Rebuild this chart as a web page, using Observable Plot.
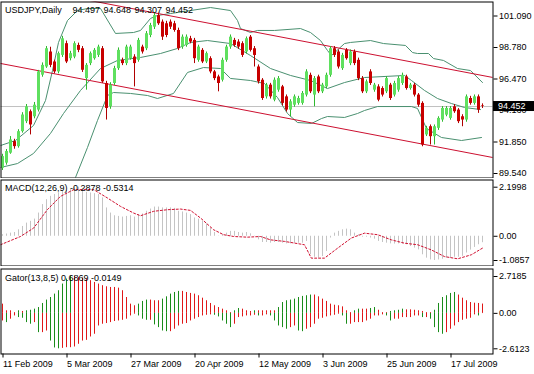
<!DOCTYPE html>
<html><head><meta charset="utf-8">
<script src="https://cdn.jsdelivr.net/npm/d3@7"></script>
<script src="https://cdn.jsdelivr.net/npm/@observablehq/plot@0.6"></script>
<style>
html,body{margin:0;padding:0;background:#fff;}
#wrap{position:relative;width:534px;height:374px;overflow:hidden;background:#fff;}
#wrap svg{position:absolute;left:0;}
</style></head><body><div id="wrap"></div>
<script>
// ---------- DATA ----------
const symbolLabel = "USDJPY,Daily";
const headerValues = ["94.497", "94.648", "94.307", "94.452"];
const lastClose = 94.452;

const open = [89.93,90.30,91.03,91.88,91.51,92.61,93.34,94.07,93.70,94.19,
96.75,97.35,98.45,97.72,96.99,98.20,99.06,97.96,98.08,98.93,
98.69,96.50,97.60,97.96,98.20,98.69,96.14,94.43,96.14,97.23,
97.84,97.60,97.96,98.08,97.84,98.81,98.69,99.66,100.27,101.12,
100.64,100.52,100.64,100.52,100.03,98.81,98.93,99.42,99.30,97.84,
98.57,97.72,97.96,96.99,96.62,96.38,97.84,98.81,99.30,99.18,
99.06,98.45,99.54,98.69,97.35,96.38,95.16,96.02,94.92,95.65,
95.89,95.16,94.19,94.55,94.68,94.68,95.29,96.74,95.29,96.62,
95.53,95.89,96.74,98.69,98.45,97.23,98.57,97.60,98.45,97.84,
96.50,95.53,96.99,95.65,95.89,95.77,95.53,96.02,95.29,95.65,
96.14,96.62,95.77,96.02,95.29,94.68,92.37,92.97,92.24,92.85,
93.46,93.82,93.58,94.43,94.19,93.70,93.46,95.04,94.68,95.16,94.497];
const close = [90.78,91.15,92.00,91.51,92.61,93.83,94.43,93.10,94.55,96.99,
97.47,98.69,97.47,96.99,98.33,99.42,97.72,98.33,99.06,98.57,
97.11,97.47,98.33,98.57,98.81,96.26,94.31,96.02,97.23,98.57,
97.60,98.81,98.81,97.60,99.30,98.45,99.79,100.39,101.12,100.52,
99.54,99.66,100.27,100.03,98.69,99.54,99.54,99.18,97.96,98.81,
97.72,98.33,96.99,96.50,96.14,97.84,98.81,99.54,98.93,98.81,
98.20,99.42,98.57,98.20,96.26,95.04,96.02,95.16,96.38,96.50,
94.68,94.19,94.80,95.16,95.04,95.41,96.99,95.53,96.50,95.53,
96.02,96.74,98.69,98.20,97.35,98.20,97.96,98.45,97.60,96.50,
95.53,96.26,96.14,96.02,94.92,95.29,96.50,95.04,96.14,96.50,
96.74,95.77,96.02,95.29,94.55,91.63,92.85,92.24,92.97,93.58,
94.31,94.31,94.31,94.07,93.34,93.46,95.16,94.68,95.16,94.19,94.452];
const high = [90.95,91.30,92.25,92.05,92.75,94.00,94.60,94.20,94.75,97.10,
97.65,98.85,98.80,97.85,98.45,99.60,99.25,98.50,99.20,99.10,
98.85,97.60,98.45,98.70,98.95,98.85,96.30,96.20,97.40,98.75,
98.00,98.95,98.95,98.25,99.45,98.95,99.95,100.55,101.30,101.30,
100.80,100.70,100.80,100.70,100.20,99.70,99.70,99.60,99.45,98.95,
98.70,98.45,98.10,97.10,96.75,98.00,98.95,99.70,99.45,99.35,
99.20,99.55,99.66,98.85,97.50,96.50,96.15,96.15,96.55,96.65,
96.00,95.30,94.95,95.30,95.20,95.55,97.15,96.90,96.65,96.75,
96.15,96.90,98.85,98.85,98.60,98.35,98.70,98.60,98.60,98.00,
96.65,96.40,97.15,96.15,96.05,95.90,96.65,96.15,96.30,96.65,
96.90,96.75,96.15,96.15,95.40,94.80,93.00,93.10,93.10,93.70,
94.45,94.45,94.45,94.60,94.30,93.85,95.30,95.20,95.30,95.30,94.648];
const low = [89.76,90.15,90.95,91.32,91.40,92.50,93.20,92.37,93.55,94.05,
96.60,97.25,97.30,96.85,96.85,98.05,97.60,97.80,97.95,98.40,
96.95,95.65,97.45,97.85,98.05,96.15,93.46,94.25,96.00,97.10,
97.45,97.45,97.85,95.89,97.70,98.30,98.55,99.50,100.10,100.40,
99.30,99.50,100.10,99.90,98.55,98.65,98.80,99.05,97.60,97.70,
97.60,97.60,96.85,96.35,95.53,96.25,97.70,98.65,98.80,98.65,
98.05,98.30,98.45,97.35,96.10,94.90,95.00,95.00,94.80,95.50,
94.50,94.05,93.70,94.40,94.55,94.55,95.15,95.40,94.43,95.40,
95.40,95.75,96.60,98.05,97.20,97.10,97.85,97.45,97.45,96.35,
95.40,95.40,96.00,95.50,94.80,95.15,95.40,94.90,95.15,95.50,
96.00,95.65,95.65,95.15,94.40,91.50,92.25,91.63,91.63,92.70,
93.30,93.70,93.45,93.95,93.20,92.97,93.30,94.55,94.55,93.95,94.307];

// Bollinger bands (bar index, price)
const bbUpperIdx = [-0.5,3.25,7.75,10.75,12.5,14,16.25,18.75,21.25,24.5,28.25,32.75,34.5,37,38.75,42,47,52,57,58.75,59.5,62,63.75,68,74.5,77,79.5,81.25,82.25,85.5,87,92,95.25,100.75,102.5,103.75,106.5,107.75,110.25,113.75,117,120];
const bbUpperVal = [91.59,91.96,93.06,94.89,97.09,99.15,100.76,101.49,101.64,101.64,99.81,99.88,100.03,100.91,101.13,101.27,101.49,101.71,101.49,100.76,100.17,99.88,100.03,100.03,100.17,99.88,99.29,98.56,98.19,99.07,99.15,99.29,99.07,98.93,98.41,98.34,98.34,97.97,97.83,97.24,97.09,96.21];
const bbMiddleIdx = [-0.5,3.75,7.75,12,15.25,19.5,24.5,28.75,34.5,39.5,43.75,47,51.25,57,62,67,72,77,81.25,85.5,90.5,100.5,102.25,105.5,108.75,112.25,115.5,119.5];
const bbMiddleVal = [89.98,90.27,91.01,92.48,93.94,95.63,97.24,97.83,98.05,98.34,98.71,99.15,99.29,99.07,98.19,97.24,96.73,96.36,95.77,96.21,96.58,96.73,96.36,95.63,95.04,94.67,94.38,94.23];
const bbLowerIdx = [17.75,21.25,23.75,26.25,27.75,32,36.25,38.75,42.75,46.25,50.25,54.5,57,62,65.5,68.75,71.25,73.75,77.25,79.75,81.25,85.5,88.75,90.5,93.75,102.25,103.75,106,109.75,114.75,119.75];
const bbLowerVal = [88.88,91.45,93.43,95.26,95.48,95.41,95.26,95.04,95.41,96.95,97.31,97.24,96.51,96.36,96.14,95.11,93.94,93.28,93.21,93.57,93.72,93.65,93.94,94.16,94.45,94.45,94.31,92.84,92.18,91.96,92.18];

// Channel (trend) lines: two anchor points each
const channelUpper = [{i: 20, p: 102.33}, {i: 122.6, p: 96.58}];
const channelLower = [{i: -0.5, p: 97.61}, {i: 122.6, p: 90.71}];

const mainTicks = [101.090, 98.780, 96.470, 94.160, 91.850, 89.540];

// MACD
const macdLabel = "MACD(12,26,9) -0.2878 -0.5314";
const macdHist = [0.07,0.10,0.14,0.17,0.29,0.44,0.59,0.67,0.77,1.04,
1.42,1.64,1.79,1.87,1.94,2.05,2.06,2.09,2.17,2.1998,
2.09,1.97,1.94,1.91,1.87,1.72,1.27,1.04,0.92,0.89,
0.86,0.89,0.92,0.86,0.97,1.00,1.12,1.22,1.31,1.31,
1.27,1.27,1.27,1.25,1.12,1.09,1.04,0.97,0.82,0.77,
0.67,0.56,0.37,0.17,-0.01,0.07,0.14,0.22,0.22,0.17,
0.14,0.17,0.11,-0.01,-0.16,-0.28,-0.28,-0.31,-0.28,-0.28,
-0.31,-0.34,-0.34,-0.31,-0.31,-0.31,-0.23,-0.83,-0.94,-0.98,
-0.91,-0.68,-0.08,0.14,0.22,0.29,0.32,0.29,0.14,0.07,
-0.04,-0.04,-0.08,-0.13,-0.23,-0.28,-0.31,-0.34,-0.35,-0.34,
-0.35,-0.38,-0.46,-0.53,-0.61,-0.83,-0.98,-1.06,-1.0857,-1.06,
-1.03,-0.98,-0.98,-0.94,-0.94,-0.90,-0.75,-0.62,-0.50,-0.38,-0.2878];
const signalIdx = [-0.5,4.5,7.8,11.2,14.5,17.8,22.8,26.2,29.5,32.8,34.5,37.8,41.2,44.5,47,49.5,52.8,55.3,57.8,61.2,64.5,67,70.5,75.5,77.2,80.5,83.8,87.2,90.5,93.8,97.2,100.5,103.8,107.2,110.5,113.8,117.2,120];
const signalVal = [-0.38,-0.01,0.37,1.19,1.79,2.09,2.09,1.72,1.34,1.04,0.92,1.12,1.19,1.22,1.16,0.82,0.29,0.07,-0.01,-0.04,-0.01,-0.16,-0.23,-0.38,-0.98,-0.98,-0.53,-0.08,0.14,0.07,-0.16,-0.31,-0.38,-0.61,-0.91,-1.01,-0.83,-0.5314];
const macdTicks = [2.1998, 0, -1.0857];
const macdTickLabels = ["2.1998", "0.00", "-1.0857"];

// Gator
const gatorLabel = "Gator(13,8,5) 0.6869 -0.0149";
const gatorUp = [0.68,0.19,0.19,0.06,0.19,0.14,0.19,0.23,0.31,0.43,
0.73,0.98,1.17,1.42,1.67,2.16,2.53,2.7185,2.70,2.65,
2.60,2.53,2.41,2.28,2.16,2.04,1.96,1.91,1.91,1.86,
1.67,1.17,0.68,0.56,0.68,0.88,0.98,0.98,0.93,0.93,
1.05,1.22,1.42,1.54,1.62,1.62,1.54,1.47,1.42,1.30,
1.12,0.93,0.73,0.56,0.43,0.31,0.19,0.06,0.19,0.36,
0.31,0.19,0.14,0.19,0.19,0.19,0.19,0.19,0.19,0.43,
0.80,0.93,0.98,1.05,1.17,1.25,1.30,1.35,1.35,1.22,
1.05,0.88,0.68,0.60,0.56,0.48,0.19,0.06,0.19,0.31,
0.31,0.31,0.36,0.43,0.23,0.06,0.06,0.14,0.19,0.23,
0.31,0.26,0.26,0.23,0.19,0.14,0.06,0.06,0.23,0.73,
1.17,1.30,1.47,1.54,1.35,1.12,0.93,0.80,0.75,0.73,0.6869];
const gatorDown = [-0.56,-0.68,-0.43,-0.19,-0.31,-0.36,-0.68,-0.80,-0.68,-1.42,
-1.42,-1.30,-2.04,-2.55,-2.6123,-2.58,-2.53,-2.53,-2.48,-2.28,
-2.04,-1.99,-1.74,-1.54,-0.93,-0.80,-0.75,-0.68,-0.60,-0.56,
-0.51,-0.43,-0.19,-0.06,-0.19,-0.43,-0.51,-0.51,-0.85,-1.05,
-1.30,-1.35,-1.35,-1.17,-0.93,-0.80,-0.75,-0.56,-0.43,-0.31,
-0.19,-0.14,-0.11,-0.14,-0.26,-0.56,-0.80,-1.05,-0.80,-0.31,
-0.26,-0.19,-0.19,-0.14,-0.19,-0.19,-0.11,-0.19,-0.56,-0.93,
-1.05,-1.17,-1.05,-0.93,-1.30,-1.35,-1.17,-1.05,-0.80,-0.43,
-0.36,-0.26,-0.19,-0.14,-0.06,-0.19,-0.80,-0.80,-0.68,-0.68,
-0.68,-0.56,-0.43,-0.19,-0.19,-0.11,-0.19,-0.56,-0.43,-0.43,
-0.31,-0.31,-0.31,-0.19,-0.19,-0.31,-0.31,-0.43,-1.05,-1.42,
-1.54,-1.42,-1.17,-0.93,-0.68,-0.51,-0.43,-0.36,-0.11,-0.19,-0.0149];
const gatorTicks = [2.7185, 0, -2.6123];
const gatorTickLabels = ["2.7185", "0.00", "-2.6123"];

// Date axis (bar index of each labelled day)
const dateIdx = [0, 16, 32, 48, 64, 80, 96, 112];
const dateLabels = ["11 Feb 2009", "5 Mar 2009", "27 Mar 2009", "20 Apr 2009", "12 May 2009", "3 Jun 2009", "25 Jun 2009", "17 Jul 2009"];

// ---------- CHART ----------
const FONT = "'Liberation Sans', Arial, sans-serif";
const FS = 9;
const UP_BODY = "#5fe05f", UP_WICK = "#2fb82f", DN_BODY = "#c80000", DN_WICK = "#b00000";
const BB = "#4a9070", CHAN = "#cc1030";
const G_GREEN = "#1a8c1a", G_RED = "#e01818";

const bars = open.map((o, i) => ({i, o, c: close[i], h: high[i], l: low[i], up: close[i] >= open[i]}));
const line = (xs, ys) => xs.map((i, k) => ({i, p: ys[k]}));
const X = {domain: [0, 120], range: [2, 482]};
const wrap = document.getElementById("wrap");

function base(height, mt, mb) {
  return {width: 534, height, marginTop: mt, marginBottom: mb, marginLeft: 0.5, marginRight: 41.5,
    style: {fontFamily: FONT, fontSize: FS + "px", background: "transparent", color: "black"}};
}

// Main price panel
const main = Plot.plot({
  ...base(178, 1.5, 0.5),
  x: {...X, axis: null},
  y: {domain: [89.54, 101.09], range: [173, 15.5]},
  marks: [
    Plot.ruleY([lastClose], {stroke: "#c0c0c0"}),
    Plot.line(line(bbUpperIdx, bbUpperVal), {x: "i", y: "p", stroke: BB, strokeWidth: 1, clip: true}),
    Plot.line(line(bbMiddleIdx, bbMiddleVal), {x: "i", y: "p", stroke: BB, strokeWidth: 1, clip: true}),
    Plot.line(line(bbLowerIdx, bbLowerVal), {x: "i", y: "p", stroke: BB, strokeWidth: 1, clip: true}),
    Plot.line(channelUpper, {x: "i", y: "p", stroke: CHAN, strokeWidth: 1, clip: true}),
    Plot.line(channelLower, {x: "i", y: "p", stroke: CHAN, strokeWidth: 1, clip: true}),
    Plot.ruleX(bars.filter(d => d.up), {x: "i", y1: "l", y2: "h", stroke: UP_WICK}),
    Plot.ruleX(bars.filter(d => !d.up), {x: "i", y1: "l", y2: "h", stroke: DN_WICK}),
    Plot.ruleX(bars.filter(d => d.up), {x: "i", y1: "o", y2: "c", stroke: UP_BODY, strokeWidth: 3}),
    Plot.ruleX(bars.filter(d => !d.up), {x: "i", y1: "o", y2: "c", stroke: DN_BODY, strokeWidth: 3}),
    Plot.axisY(mainTicks, {anchor: "right", tickSize: 4, tickPadding: 2, tickFormat: d => d.toFixed(3), label: null}),
    Plot.frame({stroke: "black"}),
    Plot.text([symbolLabel], {frameAnchor: "top-left", dx: 4, dy: 8.5, textAnchor: "start", lineAnchor: "middle", fill: "black"}),
    ...headerValues.map((v, k) => Plot.text([v], {frameAnchor: "top-left", dx: [71.5, 102.5, 133.5, 164.5][k], dy: 8.5, textAnchor: "start", lineAnchor: "middle", fill: "black"}))
  ]
});
main.style.top = "0px";
wrap.appendChild(main);
// current price marker box on the right axis
{
  const yy = main.scale("y").apply(lastClose);
  const s = d3.select(main);
  s.append("rect").attr("x", 493).attr("y", yy - 5).attr("width", 41).attr("height", 10).attr("fill", "black");
  s.append("text").attr("x", 498).attr("y", yy).attr("dy", "0.34em").attr("fill", "white")
    .attr("text-anchor", "start").attr("font-family", FONT).attr("font-size", FS).text(lastClose.toFixed(3));
}

// MACD panel
const macdData = macdHist.map((v, i) => ({i, v}));
const macd = Plot.plot({
  ...base(88, 1.5, 0.5),
  x: {...X, axis: null},
  y: {domain: [-1.0857, 2.1998], range: [82, 8.7]},
  marks: [
    Plot.ruleX(macdData, {x: "i", y1: 0, y2: "v", stroke: "#c4c4c4", clip: true}),
    Plot.line(line(signalIdx, signalVal), {x: "i", y: "p", stroke: "#d01030", strokeWidth: 1, strokeDasharray: "2,2", clip: true}),
    Plot.axisY(macdTicks, {anchor: "right", tickSize: 4, tickPadding: 2, tickFormat: d => macdTickLabels[macdTicks.indexOf(d)], label: null}),
    Plot.frame({stroke: "black"}),
    Plot.text([macdLabel], {frameAnchor: "top-left", dx: 4, dy: 8.5, textAnchor: "start", lineAnchor: "middle", fill: "black"})
  ]
});
macd.style.top = "178px";
wrap.appendChild(macd);

// Gator panel
const gData = gatorUp.map((u, i) => ({
  i, u, d: gatorDown[i],
  uGrow: i > 0 && u > gatorUp[i - 1],
  dGrow: i > 0 && Math.abs(gatorDown[i]) > Math.abs(gatorDown[i - 1])
}));
const gator = Plot.plot({
  ...base(108, 2.5, 20.5),
  x: {...X},
  y: {domain: [-2.6123, 2.7185], range: [82.3, 10]},
  marks: [
    Plot.ruleX(gData.filter(d => d.uGrow), {x: "i", y1: 0, y2: "u", stroke: G_GREEN, clip: true}),
    Plot.ruleX(gData.filter(d => !d.uGrow), {x: "i", y1: 0, y2: "u", stroke: G_RED, clip: true}),
    Plot.ruleX(gData.filter(d => d.dGrow), {x: "i", y1: 0, y2: "d", stroke: G_GREEN, clip: true}),
    Plot.ruleX(gData.filter(d => !d.dGrow), {x: "i", y1: 0, y2: "d", stroke: G_RED, clip: true}),
    Plot.axisY(gatorTicks, {anchor: "right", tickSize: 4, tickPadding: 2, tickFormat: d => gatorTickLabels[gatorTicks.indexOf(d)], label: null}),
    Plot.axisX(dateIdx, {anchor: "bottom", tickSize: 4, tickPadding: 3, textAnchor: "start", dx: 0.5, tickFormat: d => dateLabels[dateIdx.indexOf(d)], label: null}),
    Plot.frame({stroke: "black"}),
    Plot.text([gatorLabel], {frameAnchor: "top-left", dx: 4, dy: 9.5, textAnchor: "start", lineAnchor: "middle", fill: "black"})
  ]
});
gator.style.top = "266px";
wrap.appendChild(gator);
</script></body></html>
